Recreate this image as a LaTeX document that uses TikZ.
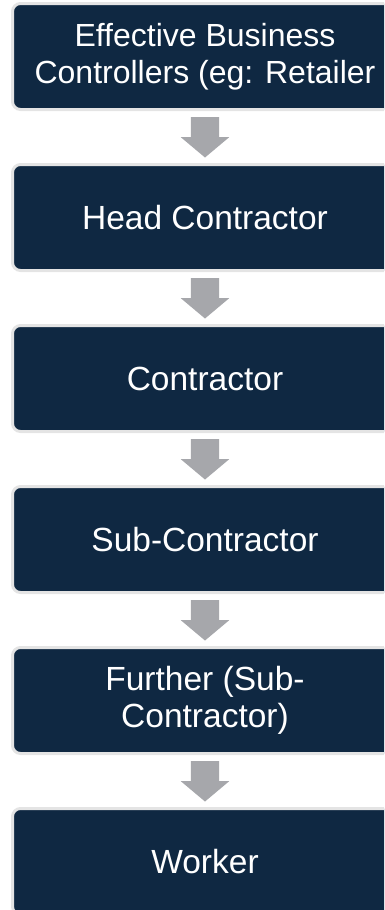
\documentclass[tikz,border=0pt]{standalone}
\usepackage{fontspec}
\setmainfont{Liberation Sans}
\usetikzlibrary{positioning, shapes.arrows, calc}
\definecolor{boxnavy}{RGB}{15,40,66}
\definecolor{arrowgrey}{RGB}{166,167,171}
\definecolor{rimgrey}{RGB}{228,228,228}
\tikzset{
	node distance=161pt, % centre to centre of two tiers
	tier/.style={draw=rimgrey, line width=3pt, fill=boxnavy, rounded corners=8pt, minimum width=385pt, minimum height=106pt, text=white, align=center, font=\fontsize{33.5}{37}\selectfont}, % one level of the chain
	downarrow/.style={single arrow, shape border rotate=270, fill=arrowgrey, draw=none, inner sep=14pt, minimum width=48pt, minimum height=40pt, single arrow head extend=10pt, single arrow tip angle=100, anchor=tail}, % grey block arrow between tiers
}

\begin{document}
\begin{tikzpicture}[x=1pt, y=1pt]
	\useasboundingbox (0,0) rectangle (384,-910);
	\clip (0,0) rectangle (384,-910);
	\node[tier, font=\fontsize{32}{37}\selectfont] (ebc) at (205,-56.5) {Effective Business\\Controllers (eg: Retailer};
	\node[tier, below of=ebc] (head) {Head Contractor};
	\node[tier, below of=head] (con) {Contractor};
	\node[tier, below of=con] (sub) {Sub-Contractor};
	\node[tier, below of=sub] (further) {Further (Sub-\\Contractor)};
	\node[tier, below of=further] (worker) {Worker};
	\foreach \a/\b in {ebc/head, head/con, con/sub, sub/further, further/worker}
		\node[downarrow] at ($(\a.south)!0.5!(\b.north)+(0,20)$) {};
\end{tikzpicture}
\end{document}
